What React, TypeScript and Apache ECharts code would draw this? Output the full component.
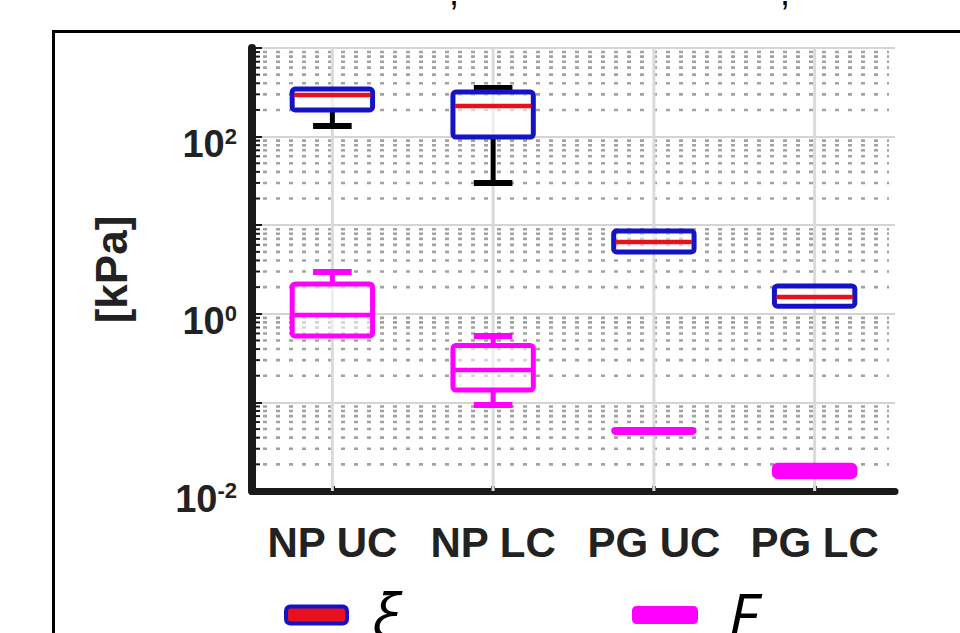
import React, { useEffect, useRef } from 'react';
import * as echarts from 'echarts';

const categories = ['NP UC', 'NP LC', 'PG UC', 'PG LC'];
// each row: [lower whisker, Q1, median, Q3, upper whisker]  (kPa)
const xiStats = [
  [132, 200, 295, 344, 344],
  [29.9, 99, 221, 318, 354],
  [4.99, 4.99, 6.46, 8.6, 8.6],
  [1.22, 1.22, 1.55, 2.06, 2.06],
];
const eStats = [
  [0.56, 0.56, 0.97, 2.17, 2.96],
  [0.0935, 0.138, 0.232, 0.44, 0.56],
  [0.0457, 0.0457, 0.0475, 0.0493, 0.0493],
  [0.0146, 0.0146, 0.0168, 0.0195, 0.0195],
];
const yMin = 0.01;
const yMax = 1000;
const minorGridValues = [
  0.02, 0.03, 0.04, 0.05, 0.06, 0.07, 0.08, 0.09,
  0.2, 0.3, 0.4, 0.5, 0.6, 0.7, 0.8, 0.9,
  2, 3, 4, 5, 6, 7, 8, 9,
  20, 30, 40, 50, 60, 70, 80, 90,
  200, 300, 400, 500, 600, 700, 800, 900,
];
const seriesNames = ['ξ', 'E'];

const XI_BLUE = '#1414c6';
const XI_RED = '#e8101e';
const MAGENTA = '#ff00ff';
const AXIS = '#1a1a1a';
const TEXT = '#222222';

function boxRenderer(border: string, median: string, whisker: string, solidSmall: boolean) {
  return (params: any, api: any) => {
    const i = api.value(0);
    const cx = api.coord([i, api.value(3)])[0];
    const yLo = api.coord([i, api.value(1)])[1];
    const yQ1 = api.coord([i, api.value(2)])[1];
    const yMed = api.coord([i, api.value(3)])[1];
    const yQ3 = api.coord([i, api.value(4)])[1];
    const yHi = api.coord([i, api.value(5)])[1];
    const band = api.coord([1, api.value(3)])[0] - api.coord([0, api.value(3)])[0];
    const bw = band * 0.5;
    const cap = band * 0.24;
    const h = Math.max(yQ1 - yQ3, 0.5);
    const children: any[] = [];
    if (yHi < yQ3 - 0.5) {
      children.push({ type: 'line', shape: { x1: cx, y1: yQ3, x2: cx, y2: yHi }, style: { stroke: whisker, lineWidth: 5 } });
      children.push({ type: 'line', shape: { x1: cx - cap / 2, y1: yHi, x2: cx + cap / 2, y2: yHi }, style: { stroke: whisker, lineWidth: 6 } });
    }
    if (yLo > yQ1 + 0.5) {
      children.push({ type: 'line', shape: { x1: cx, y1: yQ1, x2: cx, y2: yLo }, style: { stroke: whisker, lineWidth: 5 } });
      children.push({ type: 'line', shape: { x1: cx - cap / 2, y1: yLo, x2: cx + cap / 2, y2: yLo }, style: { stroke: whisker, lineWidth: 6 } });
    }
    children.push({
      type: 'rect',
      shape: { x: cx - bw / 2, y: yQ3, width: bw, height: h, r: 3 },
      style: { fill: solidSmall && h < 14 ? border : 'rgba(255,255,255,0.55)', stroke: border, lineWidth: 5, lineJoin: 'round' },
    });
    children.push({
      type: 'line',
      shape: { x1: cx - bw / 2 + 2, y1: yMed, x2: cx + bw / 2 - 2, y2: yMed },
      style: { stroke: median, lineWidth: 4.5 },
    });
    return { type: 'group', children };
  };
}

export default function App() {
  const ref = useRef<HTMLDivElement>(null);
  useEffect(() => {
    if (!ref.current) return;
    const chart = echarts.init(ref.current, undefined, { renderer: 'svg' });
    const option: any = {
      animation: false,
      backgroundColor: '#ffffff',
      grid: { left: 252, top: 48, right: 65, bottom: 142, containLabel: false },
      xAxis: {
        type: 'category',
        data: categories,
        boundaryGap: true,
        axisLine: { show: true, lineStyle: { color: AXIS, width: 7 } },
        axisTick: { show: true, inside: true, alignWithLabel: true, length: 5, lineStyle: { color: AXIS, width: 4 } },
        axisLabel: { interval: 0, fontSize: 42, fontWeight: 'bold', color: TEXT, margin: 30, fontFamily: 'Liberation Sans, Arial, sans-serif' },
        splitLine: { show: false },
      },
      yAxis: {
        type: 'log',
        logBase: 10,
        min: yMin,
        max: yMax,
        splitNumber: 5,
        axisLine: { show: true, lineStyle: { color: AXIS, width: 8 } },
        axisTick: { show: true, inside: true, length: 10, lineStyle: { color: AXIS, width: 2 } },
        splitLine: { show: true, lineStyle: { color: '#d4d4d4', width: 2 } },
        axisLabel: {
          margin: 15,
          padding: [15, 0, 0, 0],
          formatter: (v: number) => {
            const e = Math.round(Math.log10(v));
            return e % 2 === 0 ? `{b|10}{s|${e}}` : '';
          },
          rich: {
            b: { fontSize: 38, fontWeight: 'bold', color: TEXT, fontFamily: 'Liberation Sans, Arial, sans-serif', verticalAlign: 'bottom' },
            s: { fontSize: 22, fontWeight: 'bold', color: TEXT, fontFamily: 'Liberation Sans, Arial, sans-serif', lineHeight: 22, padding: [0, 0, 26, 0], verticalAlign: 'top' },
          },
        },
        name: '[kPa]',
        nameLocation: 'middle',
        nameGap: 119,
        nameTextStyle: { fontSize: 44, fontWeight: 'bold', color: TEXT, fontFamily: 'Liberation Sans, Arial, sans-serif' },
      },
      legend: [
        {
          left: 279,
          top: 579,
          itemWidth: 61,
          itemHeight: 17,
          selectedMode: false,
          data: [{ name: seriesNames[0], icon: 'roundRect', itemStyle: { color: XI_RED, borderColor: XI_BLUE, borderWidth: 4 } }],
          textStyle: { fontSize: 62, lineHeight: 62, fontStyle: 'italic', color: '#000', fontFamily: "'Open Sans', 'DejaVu Sans', sans-serif", padding: [0, 0, 0, 20] },
        },
        {
          left: 627,
          top: 579,
          itemWidth: 66,
          itemHeight: 18,
          selectedMode: false,
          data: [{ name: seriesNames[1], icon: 'roundRect', itemStyle: { color: MAGENTA, borderWidth: 0 } }],
          textStyle: { fontSize: 62, lineHeight: 62, fontStyle: 'italic', color: '#000', fontFamily: "'Open Sans', 'DejaVu Sans', sans-serif", padding: [0, 0, 0, 25] },
        },
      ],
      graphic: [
        { type: 'rect', z: -10, silent: true, shape: { x: 53.5, y: 31.5, width: 1000, height: 1000 }, style: { fill: 'none', stroke: '#000', lineWidth: 3 } },
        { type: 'text', x: 449, y: 10, style: { text: ',', fontSize: 36, fontFamily: 'Liberation Sans, Arial', fill: '#000', verticalAlign: 'bottom' } },
        { type: 'text', x: 780, y: 10, style: { text: ',', fontSize: 36, fontFamily: 'Liberation Sans, Arial', fill: '#000', verticalAlign: 'bottom' } },
      ],
      series: [
        {
          type: 'custom',
          name: 'minor-grid',
          silent: true,
          z: 1,
          data: minorGridValues.map((v) => [0, v]),
          encode: { x: 0, y: 1 },
          renderItem: (params: any, api: any) => {
            const y = api.coord([0, api.value(1)])[1];
            const cs = params.coordSys;
            return {
              type: 'group',
              children: [
                { type: 'line', shape: { x1: cs.x + 11, y1: y, x2: cs.x + cs.width - 6, y2: y }, style: { stroke: '#a2a2a2', lineWidth: 2.6, lineDash: [4, 9] } },
                { type: 'line', shape: { x1: cs.x, y1: y, x2: cs.x + 8, y2: y }, style: { stroke: AXIS, lineWidth: 2 } },
              ],
            };
          },
        },
        {
          type: 'custom',
          name: 'category-grid',
          silent: true,
          z: 1,
          data: categories.map((_, i) => [i, 1]),
          encode: { x: 0, y: 1 },
          renderItem: (params: any, api: any) => {
            const x = api.coord([api.value(0), 1])[0];
            const cs = params.coordSys;
            return { type: 'line', shape: { x1: x, y1: cs.y, x2: x, y2: cs.y + cs.height }, style: { stroke: '#dadada', lineWidth: 3 } };
          },
        },
        {
          type: 'custom',
          name: seriesNames[1],
          z: 3,
          itemStyle: { color: MAGENTA },
          data: eStats.map((r, i) => [i, ...r]),
          encode: { x: 0, y: [1, 2, 3, 4, 5] },
          renderItem: boxRenderer(MAGENTA, MAGENTA, MAGENTA, true),
        },
        {
          type: 'custom',
          name: seriesNames[0],
          z: 3,
          itemStyle: { color: XI_RED, borderColor: XI_BLUE, borderWidth: 4 },
          data: xiStats.map((r, i) => [i, ...r]),
          encode: { x: 0, y: [1, 2, 3, 4, 5] },
          renderItem: boxRenderer(XI_BLUE, XI_RED, '#000000', false),
        },
      ],
    };
    chart.setOption(option);
    return () => chart.dispose();
  }, []);
  return <div ref={ref} style={{ position: 'fixed', left: 0, top: 0, width: 960, height: 633, background: '#fff' }} />;
}
